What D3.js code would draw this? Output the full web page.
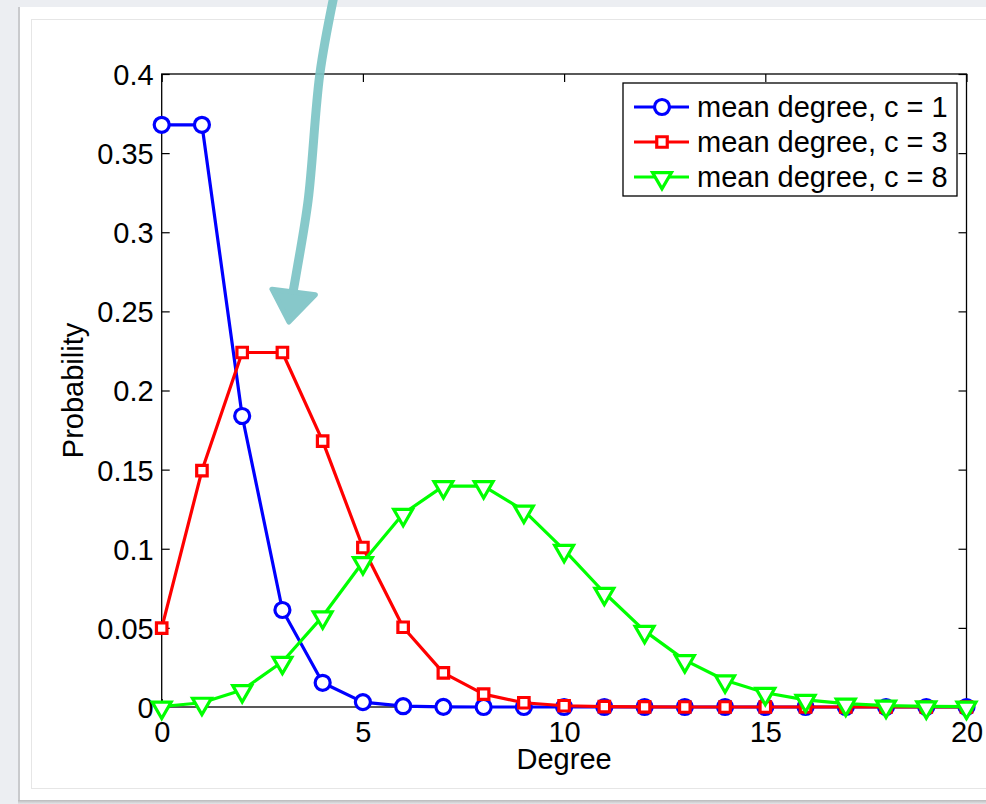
<!DOCTYPE html>
<html>
<head>
<meta charset="utf-8">
<script src="https://cdn.jsdelivr.net/npm/d3@7"></script>
<style>
html,body{margin:0;padding:0;background:#eceef2;}
svg{display:block;}
text{font-family:"Liberation Sans",Arial,Helvetica,sans-serif;}
</style>
</head>
<body>
<svg id="chart" width="986" height="804"></svg>
<script>
// ---- data ----
const degrees = d3.range(0, 21);
const seriesNames = ["mean degree, c = 1", "mean degree, c = 3", "mean degree, c = 8"];
const valuesC1 = [0.3679,0.3679,0.1839,0.0613,0.0153,0.0031,0.0005,0.0001,0.0000,0.0000,0.0000,0.0000,0.0000,0.0000,0.0000,0.0000,0.0000,0.0000,0.0000,0.0000,0.0000];
const valuesC3 = [0.0498,0.1494,0.2240,0.2240,0.1680,0.1008,0.0504,0.0216,0.0081,0.0027,0.0008,0.0002,0.0001,0.0000,0.0000,0.0000,0.0000,0.0000,0.0000,0.0000,0.0000];
const valuesC8 = [0.0003,0.0027,0.0107,0.0286,0.0573,0.0916,0.1221,0.1396,0.1396,0.1241,0.0993,0.0722,0.0481,0.0296,0.0169,0.0090,0.0045,0.0021,0.0009,0.0004,0.0002];
const xTicks = [0,5,10,15,20];
const yTicks = [0,0.05,0.1,0.15,0.2,0.25,0.3,0.35,0.4];
const yTickLabels = ["0","0.05","0.1","0.15","0.2","0.25","0.3","0.35","0.4"];
const colors = ["#0000ff","#ff0000","#00ff00"];
const markers = ["circle","square","triangle"];
// annotation arrow (in data units)
const arrowShaft = [[4.26,0.4468],[3.93,0.40],[3.64,0.3204],[3.36,0.2761],[3.22,0.2560]];
const arrowHead = [[2.74,0.2640],[3.82,0.2605],[3.16,0.2433]];

const svg = d3.select("#chart");

// ---- page card ----
const defs = svg.append("defs");
const g1 = defs.append("linearGradient").attr("id","shb").attr("x1",0).attr("y1",0).attr("x2",0).attr("y2",1);
g1.append("stop").attr("offset","0%").attr("stop-color","#9a9a9a");
g1.append("stop").attr("offset","100%").attr("stop-color","#e4e5e8");
svg.append("rect").attr("x",18).attr("y",797).attr("width",970).attr("height",7).attr("fill","url(#shb)");
svg.append("rect").attr("x",18).attr("y",7).attr("width",3).attr("height",793).attr("fill","#c9cacd");
svg.append("rect").attr("x",20).attr("y",7).attr("width",970).attr("height",793).attr("fill","#ffffff");
svg.append("rect").attr("x",31.5).attr("y",19.5).attr("width",970).attr("height",769).attr("fill","none").attr("stroke","#e6e6e6").attr("stroke-width",1);

// ---- scales ----
const x = d3.scaleLinear().domain([0,20]).range([161.7,966.5]);
const y = d3.scaleLinear().domain([0,0.4]).range([707,74]);

const FS = 29;
const plot = svg.append("g");

// axes box
plot.append("rect").attr("x",x(0)).attr("y",y(0.4)).attr("width",x(20)-x(0)).attr("height",y(0)-y(0.4))
  .attr("fill","none").attr("stroke","#000").attr("stroke-width",1.3);

// ticks via d3 axes (inward)
const axB = d3.axisBottom(x).tickValues(xTicks).tickSizeInner(-8).tickSizeOuter(0).tickPadding(14).tickFormat(d3.format("d"));
const axT = d3.axisTop(x).tickValues(xTicks).tickSizeInner(-8).tickSizeOuter(0).tickFormat("");
const axL = d3.axisLeft(y).tickValues(yTicks).tickSizeInner(-8).tickSizeOuter(0).tickPadding(14).tickFormat((d,i)=>yTickLabels[i]);
const axR = d3.axisRight(y).tickValues(yTicks).tickSizeInner(-8).tickSizeOuter(0).tickFormat("");

function styleAxis(g){
  g.select(".domain").remove();
  g.selectAll(".tick line").attr("stroke","#000").attr("stroke-width",1.2);
  g.selectAll(".tick text").attr("fill","#000").style("font-size",FS+"px").style("font-family","Liberation Sans, Arial, sans-serif");
}
plot.append("g").attr("transform",`translate(0,${y(0)})`).call(axB).call(styleAxis)
  .selectAll(".tick text").attr("dy","0.71em");
plot.append("g").attr("transform",`translate(0,${y(0.4)})`).call(axT).call(styleAxis);
plot.append("g").attr("transform",`translate(${x(0)},0)`).call(axL).call(styleAxis)
  .selectAll(".tick text").attr("dy","0.36em").attr("x",-8);
plot.append("g").attr("transform",`translate(${x(20)},0)`).call(axR).call(styleAxis);

// axis labels
svg.append("text").attr("x",(x(0)+x(20))/2).attr("y",769).attr("text-anchor","middle")
  .style("font-size",FS+"px").text("Degree");
svg.append("text").attr("transform",`translate(83,${(y(0)+y(0.4))/2}) rotate(-90)`).attr("text-anchor","middle")
  .style("font-size",FS+"px").text("Probability");

// ---- series ----
const allValues = [valuesC1, valuesC3, valuesC8];
const line = d3.line().x(d=>x(d[0])).y(d=>y(d[1]));
const sym = {
  circle: d3.symbol().type(d3.symbolCircle).size(Math.PI*7.5*7.5),
  square: d3.symbol().type(d3.symbolSquare).size(10.5*10.5),
  triangle: d3.symbol().type(d3.symbolTriangle).size(155)
};
function drawMarker(g, type, cx, cy, color){
  const p = g.append("path").attr("d", sym[type]()).attr("fill","#fff").attr("stroke",color).attr("stroke-width",3.2);
  if(type==="triangle") p.attr("transform",`translate(${cx},${cy+1}) rotate(180)`);
  else p.attr("transform",`translate(${cx},${cy})`);
}
allValues.forEach((vals,i)=>{
  const pts = degrees.map((d,j)=>[d, vals[j]]);
  const g = plot.append("g");
  g.append("path").attr("d", line(pts)).attr("fill","none").attr("stroke",colors[i]).attr("stroke-width",3.2).attr("stroke-linejoin","round");
  pts.forEach(p=>drawMarker(g, markers[i], x(p[0]), y(p[1]), colors[i]));
});

// ---- legend ----
const lg = svg.append("g");
lg.append("rect").attr("x",623).attr("y",83).attr("width",334).attr("height",113).attr("fill","#fff").attr("stroke","#000").attr("stroke-width",1.3);
seriesNames.forEach((name,i)=>{
  const cy = 107 + i*35;
  lg.append("line").attr("x1",634).attr("x2",689).attr("y1",cy).attr("y2",cy).attr("stroke",colors[i]).attr("stroke-width",3.2);
  drawMarker(lg, markers[i], 662, cy, colors[i]);
  lg.append("text").attr("x",697).attr("y",cy).attr("dy","0.36em").style("font-size",FS+"px").text(name);
});

// ---- annotation arrow ----
const ag = svg.append("g").attr("opacity",0.92);
ag.append("path").attr("d", d3.line().curve(d3.curveCatmullRom)(arrowShaft.map(p=>[x(p[0]),y(p[1])])))
  .attr("fill","none").attr("stroke","#7dc4c6").attr("stroke-width",9).attr("stroke-linecap","round");
ag.append("path").attr("d", d3.line()(arrowHead.map(p=>[x(p[0]),y(p[1])]))+"Z")
  .attr("fill","#7dc4c6").attr("stroke","#7dc4c6").attr("stroke-width",5).attr("stroke-linejoin","round");
</script>
</body>
</html>
